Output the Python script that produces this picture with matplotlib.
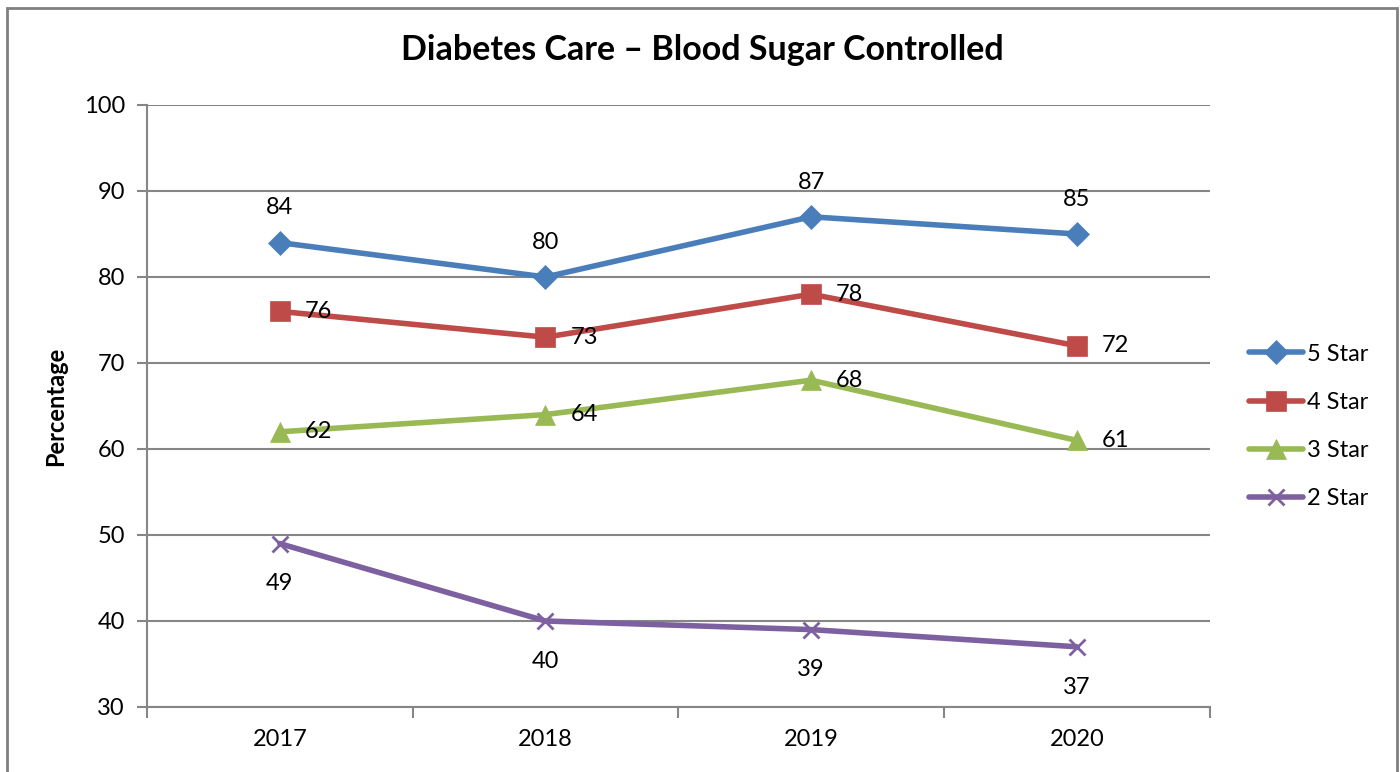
import matplotlib.pyplot as plt
from matplotlib.patches import Rectangle

plt.rcParams['font.family'] = ['Lato', 'DejaVu Sans']

years = ['2017', '2018', '2019', '2020']
star5 = [84, 80, 87, 85]
star4 = [76, 73, 78, 72]
star3 = [62, 64, 68, 61]
star2 = [49, 40, 39, 37]

series = [
    ('5 Star', star5, '#4A7EBB', 'D', 12, 'above'),
    ('4 Star', star4, '#BE4B48', 's', 14, 'right'),
    ('3 Star', star3, '#98B954', '^', 14, 'right'),
    ('2 Star', star2, '#7D60A0', 'x', 12, 'below'),
]

fig = plt.figure(figsize=(14, 7.72), dpi=100)
ax = fig.add_axes([0.105, 0.0842, 0.759, 0.7798])

# outer chart frame (bottom runs off the picture)
fig.patches.append(Rectangle((0.005, -0.05), 0.993, 1.04, transform=fig.transFigure,
                             fill=False, edgecolor='#808080', lw=2))

x = list(range(len(years)))
for name, vals, color, marker, ms, pos in series:
    ax.plot(x, vals, color=color, lw=4, marker=marker, markersize=ms,
            markeredgewidth=2 if marker == 'x' else 0.5, markeredgecolor=color,
            label=name, solid_capstyle='round', zorder=3)
    for xi, v in zip(x, vals):
        if pos == 'above':
            ax.annotate(str(v), (xi, v), xytext=(0, 25), textcoords='offset points',
                        ha='center', va='center', fontsize=17)
        elif pos == 'below':
            ax.annotate(str(v), (xi, v), xytext=(0, -29), textcoords='offset points',
                        ha='center', va='center', fontsize=17)
        else:
            ax.annotate(str(v), (xi, v), xytext=(18, 0), textcoords='offset points',
                        ha='left', va='center', fontsize=17)

ax.set_xlim(-0.5, 3.5)
ax.set_ylim(30, 100)
ax.set_yticks(range(30, 101, 10))
ax.set_xticks(x)
ax.set_xticklabels(years)
ax.set_xticks([-0.5, 0.5, 1.5, 2.5, 3.5], minor=True)
ax.tick_params(axis='x', which='major', length=0, labelsize=17, pad=16)
ax.tick_params(axis='x', which='minor', length=8, width=1.5, color='#868686')
ax.tick_params(axis='y', length=7, width=1.5, color='#868686', labelsize=17, pad=9)
ax.yaxis.grid(True, color='#868686', lw=1.5)
ax.set_axisbelow(True)

for s in ['top', 'right']:
    ax.spines[s].set_visible(False)
for s in ['left', 'bottom']:
    ax.spines[s].set_color('#868686')
    ax.spines[s].set_linewidth(1.5)

ax.set_ylabel('Percentage', fontsize=17, fontweight='bold', labelpad=12)
fig.text(0.502, 0.935, 'Diabetes Care \u2013 Blood Sugar Controlled', ha='center',
         va='center', fontsize=24.5, fontweight='bold')

leg = ax.legend(loc='center left', bbox_to_anchor=(1.037, 0.466), frameon=False,
                fontsize=17, handlelength=2.3, handletextpad=0.15, labelspacing=1.15,
                borderpad=0, borderaxespad=0)

plt.savefig('out.png', dpi=100)
